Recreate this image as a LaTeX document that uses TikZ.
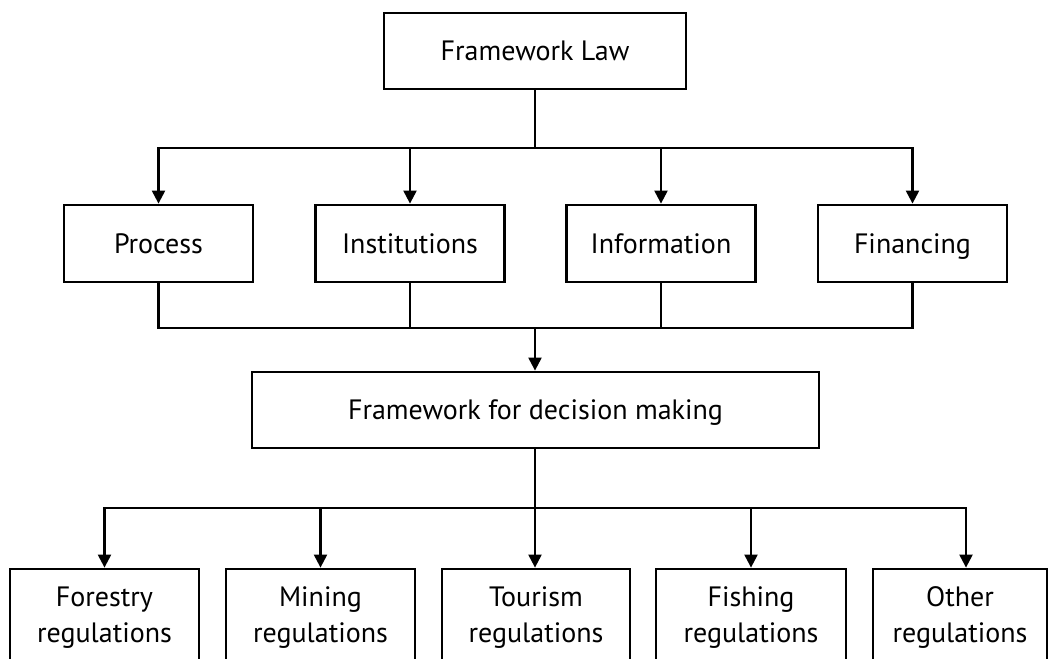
\documentclass[tikz,border=0pt]{standalone}
\usepackage{fontspec}
\setmainfont{PT Sans}
\usetikzlibrary{arrows.meta}
\tikzset{
  box/.style={draw=black, line width=2.8pt, fill=white, align=center, inner sep=0pt,
              font=\fontsize{28}{36}\selectfont, text height=19.6pt, text depth=0pt},
  twoline/.style={text height=55.6pt, text depth=0pt},
  conn/.style={line width=2.2pt, line join=miter},
  arr/.style={conn, -{Triangle[length=13pt,width=13pt]}}
}
\begin{document}
\begin{tikzpicture}[x=1pt,y=-1pt]
\useasboundingbox (0,0) rectangle (1051,658);
\clip (0,0) rectangle (1051,658);
% top
\node[box, minimum width=302pt, minimum height=76pt] (law) at (535,51) {Framework Law};
% second row
\node[box, minimum width=189pt, minimum height=77pt] (proc) at (158.5,243.5) {Process};
\node[box, minimum width=189pt, minimum height=77pt] (inst) at (410,243.5) {Institutions};
\node[box, minimum width=189pt, minimum height=77pt] (info) at (661,243.5) {Information};
\node[box, minimum width=189pt, minimum height=77pt] (fin) at (912.5,243.5) {Financing};
% decision
\node[box, minimum width=567pt, minimum height=76pt] (dec) at (535.5,410) {Framework for decision making};
% bottom row
\node[box, twoline, minimum width=189pt, minimum height=92pt] (for) at (104.5,615) {Forestry\\regulations};
\node[box, twoline, minimum width=189pt, minimum height=92pt] (min) at (320.5,615) {Mining\\regulations};
\node[box, twoline, minimum width=188pt, minimum height=92pt] (tou) at (536,615) {Tourism\\regulations};
\node[box, twoline, minimum width=190pt, minimum height=92pt] (fis) at (751,615) {Fishing\\regulations};
\node[box, twoline, minimum width=174pt, minimum height=92pt] (oth) at (960,615) {Other\\regulations};
% hubs
\coordinate (h1) at (535,148);
\coordinate (h2) at (535,328);
\coordinate (h3) at (535,508);
% connectors
\draw[conn] (law.south) -- (h1);
\draw[arr] (h1) -| (proc.north);
\draw[arr] (h1) -| (inst.north);
\draw[arr] (h1) -| (info.north);
\draw[arr] (h1) -| (fin.north);
\draw[conn] (proc.south) |- (h2);
\draw[conn] (inst.south) |- (h2);
\draw[conn] (info.south) |- (h2);
\draw[conn] (fin.south) |- (h2);
\draw[arr] (h2) -- (dec.north -| h2);
\draw[conn] (dec.south -| h3) -- (h3);
\draw[arr] (h3) -| (for.north);
\draw[arr] (h3) -| (min.north);
\draw[arr] (h3) -- (tou.north -| h3);
\draw[arr] (h3) -| (fis.north);
\draw[arr] (h3) -| ([xshift=6pt]oth.north);
\end{tikzpicture}
\end{document}
